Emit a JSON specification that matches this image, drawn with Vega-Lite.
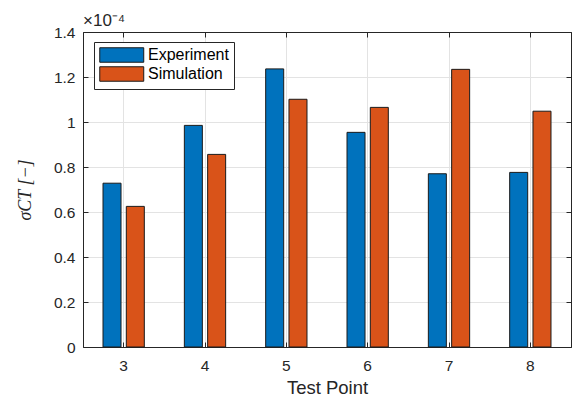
{
  "$schema": "https://vega.github.io/schema/vega-lite/v6.json",
  "width": 488,
  "height": 315,
  "autosize": {"type": "none"},
  "padding": {"left": 83, "top": 32, "right": 1, "bottom": 54},
  "background": "white",
  "title": {
    "text": "×10⁻⁴",
    "anchor": "start",
    "frame": "group",
    "font": "Liberation Sans",
    "fontSize": 17,
    "fontWeight": "normal",
    "color": "#262626",
    "offset": 3,
    "dy": 25,
    "baseline": "bottom"
  },
  "data": {
    "values": [
      {"TestPoint": 3, "Series": "Experiment", "sigma": 0.0000728},
      {"TestPoint": 3, "Series": "Simulation", "sigma": 0.0000625},
      {"TestPoint": 4, "Series": "Experiment", "sigma": 0.0000985},
      {"TestPoint": 4, "Series": "Simulation", "sigma": 0.0000856},
      {"TestPoint": 5, "Series": "Experiment", "sigma": 0.0001236},
      {"TestPoint": 5, "Series": "Simulation", "sigma": 0.0001101},
      {"TestPoint": 6, "Series": "Experiment", "sigma": 0.0000954},
      {"TestPoint": 6, "Series": "Simulation", "sigma": 0.0001065},
      {"TestPoint": 7, "Series": "Experiment", "sigma": 0.0000770},
      {"TestPoint": 7, "Series": "Simulation", "sigma": 0.0001234},
      {"TestPoint": 8, "Series": "Experiment", "sigma": 0.0000776},
      {"TestPoint": 8, "Series": "Simulation", "sigma": 0.0001048}
    ]
  },
  "config": {
    "view": {"stroke": "#262626", "strokeWidth": 1},
    "font": "Liberation Sans",
    "axis": {
      "domainColor": "#262626",
      "domainWidth": 1,
      "tickColor": "#262626",
      "tickWidth": 1,
      "tickSize": -5,
      "gridColor": "#e3e3e3",
      "gridWidth": 1,
      "labelFont": "Liberation Sans",
      "labelFontSize": 15.5,
      "labelColor": "#262626",
      "titleFont": "Liberation Sans",
      "titleFontSize": 18.5,
      "titleFontWeight": "normal",
      "titleColor": "#262626"
    }
  },
  "encoding": {
    "x": {
      "field": "TestPoint",
      "type": "ordinal",
      "scale": {"paddingInner": 0, "paddingOuter": 0}
    },
    "xOffset": {
      "field": "Series",
      "type": "nominal",
      "scale": {"paddingInner": 0.227, "paddingOuter": 0.859}
    },
    "y": {
      "field": "sigma",
      "type": "quantitative",
      "scale": {"domain": [0, 0.00014], "nice": false, "zero": true}
    }
  },
  "layer": [
    {
      "mark": {"type": "bar", "stroke": "#1a1a1a", "strokeWidth": 1},
      "encoding": {
        "x": {
          "field": "TestPoint",
          "type": "ordinal",
          "axis": {
            "title": "Test Point",
            "labelAngle": 0,
            "labelPadding": 16,
            "grid": true,
            "titleX": 244,
            "titleY": 40,
            "titleBaseline": "middle"
          }
        },
        "y": {
          "field": "sigma",
          "type": "quantitative",
          "axis": {
            "values": [0, 0.00002, 0.00004, 0.00006, 0.00008, 0.0001, 0.00012, 0.00014],
            "labelExpr": "format(datum.value * 10000, '.2~g')",
            "labelPadding": 13,
            "grid": true,
            "title": "σCT [−]",
            "titleFont": "Liberation Serif",
            "titleFontStyle": "italic",
            "titleFontSize": 18,
            "titleAngle": -90,
            "titleX": -58,
            "titleY": 157.5,
            "titleBaseline": "middle",
            "titleAlign": "center"
          }
        },
        "color": {
          "field": "Series",
          "type": "nominal",
          "scale": {"domain": ["Experiment", "Simulation"], "range": ["#0072BD", "#D95319"]},
          "legend": {
            "title": null,
            "orient": "none",
            "legendX": 11,
            "legendY": 10,
            "direction": "vertical",
            "fillColor": "white",
            "strokeColor": "#262626",
            "padding": 5,
            "symbolType": "M-1,-1 L5.07,-1 L5.07,1 L-1,1 Z",
            "symbolSize": 210,
            "symbolStrokeColor": "#1a1a1a",
            "symbolStrokeWidth": 1,
            "symbolOpacity": 1,
            "labelOffset": 33,
            "labelFont": "Liberation Sans",
            "labelFontSize": 16,
            "labelColor": "#000000",
            "rowPadding": -1
          }
        }
      }
    },
    {
      "mark": {"type": "bar", "opacity": 0},
      "encoding": {
        "x": {
          "field": "TestPoint",
          "type": "ordinal",
          "axis": {"orient": "top", "labels": false, "title": null, "grid": false}
        },
        "y": {
          "field": "sigma",
          "type": "quantitative",
          "axis": {
            "orient": "right",
            "values": [0, 0.00002, 0.00004, 0.00006, 0.00008, 0.0001, 0.00012, 0.00014],
            "labels": false,
            "title": null,
            "grid": false
          }
        }
      }
    }
  ],
  "resolve": {"axis": {"x": "independent", "y": "independent"}}
}
